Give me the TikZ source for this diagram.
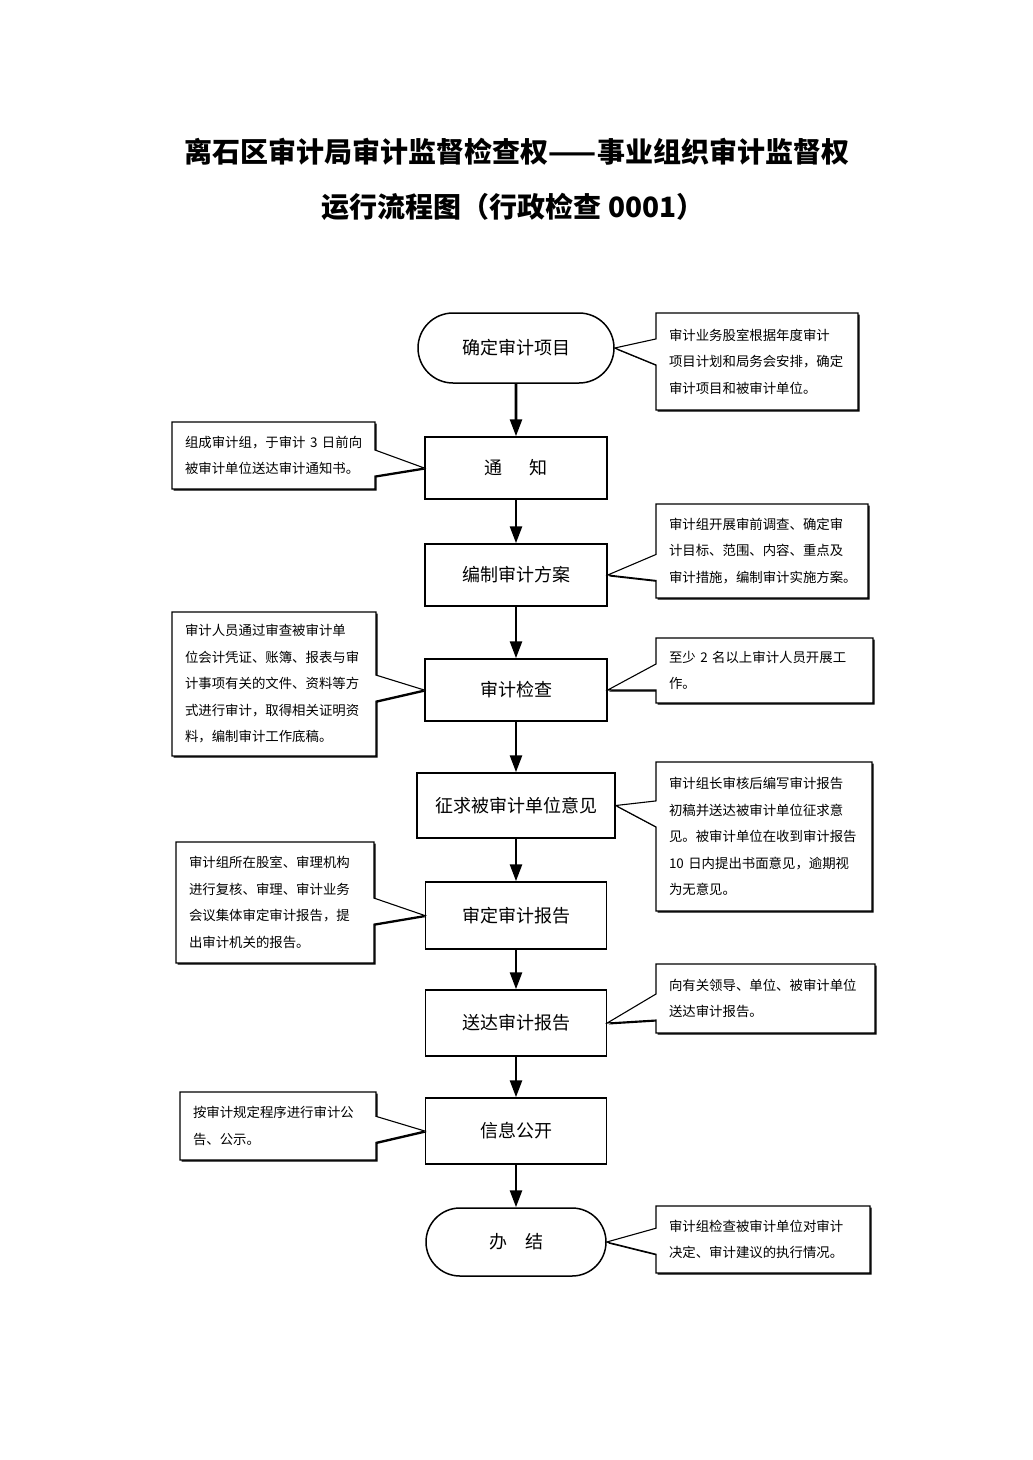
\documentclass[tikz,border=0pt]{standalone}
\usepackage{fontspec}
\setmainfont{Noto Sans CJK SC}
\usetikzlibrary{positioning,shapes.misc,shapes.callouts,shadows,arrows.meta}

\begin{document}
\begin{tikzpicture}[x=1pt, y=-1pt,
    box/.style={rectangle, draw, line width=1.5pt, minimum width=182pt, minimum height=62pt, inner sep=0pt, font=\fontsize{18pt}{22pt}\selectfont},
    ends/.style={rounded rectangle, draw, line width=1.5pt, minimum width=196pt, minimum height=70pt, inner sep=0pt, font=\fontsize{18pt}{22pt}\selectfont},
    note/.style={rectangle callout, draw, line width=1.1pt, fill=white, align=left, inner xsep=13pt, inner ysep=2pt, font=\fontsize{13.4pt}{26.5pt}\selectfont, callout pointer width=26pt, drop shadow={shadow xshift=1.5pt, shadow yshift=-1.5pt, fill=black, opacity=1}},
    flow/.style={-{Triangle[width=12pt,length=17pt]}, line width=2.6pt}]
    \useasboundingbox [fill=white] (0,0) rectangle (1033,1460);

    % Judul
    \node (title1) at (517,152) [font=\fontsize{28pt}{34pt}\selectfont\bfseries] {离石区审计局审计监督检查权——事业组织审计监督权};
    \node (title2) at (513,207) [font=\fontsize{28pt}{34pt}\selectfont\bfseries] {运行流程图（行政检查 0001）};

    % Langkah utama
    \node (decide) at (516,348) [ends] {确定审计项目};
    \node (notify) [box, below=52.5pt of decide] {通\hspace{1.5em}知};
    \node (plan) [box, below=43.5pt of notify] {编制审计方案};
    \node (check) [box, below=51.5pt of plan] {审计检查};
    \node (opinion) [box, minimum width=198pt, minimum height=65pt, below=50.5pt of check] {征求被审计单位意见};
    \node (approve) [box, minimum width=181pt, minimum height=67pt, below=42.5pt of opinion] {审定审计报告};
    \node (deliver) [box, minimum width=181pt, minimum height=66pt, below=39.5pt of approve] {送达审计报告};
    \node (publish) [box, minimum width=181pt, minimum height=66pt, below=40.5pt of deliver] {信息公开};
    \node (close) [ends, minimum width=180pt, minimum height=68pt, below=42.5pt of publish] {办\hspace{1em}结};

    % Panah
    \draw [flow] (decide) -- (notify);
    \draw [flow] (notify) -- (plan);
    \draw [flow] (plan) -- (check);
    \draw [flow] (check) -- (opinion);
    \draw [flow] (opinion) -- (approve);
    \draw [flow] (approve) -- (deliver);
    \draw [flow] (deliver) -- (publish);
    \draw [flow] (publish) -- (close);

    % Keterangan
    \node (decidenote) at (757,361.5) [note, text width=176pt, minimum height=97pt, callout absolute pointer={(decide.east)}] {审计业务股室根据年度审计\\项目计划和局务会安排，确定\\审计项目和被审计单位。};
    \node (notifynote) at (273.5,455.5) [note, text width=177pt, minimum height=67pt, callout absolute pointer={(notify.west)}] {组成审计组，于审计~3~日前向\\被审计单位送达审计通知书。};
    \node (plannote) at (762,551) [note, text width=186pt, minimum height=94pt, callout absolute pointer={(plan.east)}] {审计组开展审前调查、确定审\\计目标、范围、内容、重点及\\审计措施，编制审计实施方案。};
    \node (checknote) at (274,684) [note, text width=178pt, minimum height=144pt, callout absolute pointer={(check.west)}] {审计人员通过审查被审计单\\位会计凭证、账簿、报表与审\\计事项有关的文件、资料等方\\式进行审计，取得相关证明资\\料，编制审计工作底稿。};
    \node (staffnote) at (764.5,670.5) [note, text width=191pt, minimum height=65pt, callout absolute pointer={(check.east)}] {至少~2~名以上审计人员开展工\\作。};
    \node (opinionnote) at (764,836.5) [note, text width=190pt, minimum height=149pt, callout absolute pointer={(opinion.east)}] {审计组长审核后编写审计报告\\初稿并送达被审计单位征求意\\见。被审计单位在收到审计报告\\10~日内提出书面意见，逾期视\\为无意见。};
    \node (approvenote) at (275,902.5) [note, text width=172pt, minimum height=121pt, callout absolute pointer={(approve.west)}] {审计组所在股室、审理机构\\进行复核、审理、审计业务\\会议集体审定审计报告，提\\出审计机关的报告。};
    \node (delivernote) at (765.5,998.5) [note, text width=193pt, minimum height=69pt, callout absolute pointer={(deliver.east)}] {向有关领导、单位、被审计单位\\送达审计报告。};
    \node (publishnote) at (278,1126) [note, text width=170pt, minimum height=68pt, callout absolute pointer={(publish.west)}] {按审计规定程序进行审计公\\告、公示。};
    \node (closenote) at (763,1239.5) [note, text width=188pt, minimum height=67pt, callout absolute pointer={(close.east)}] {审计组检查被审计单位对审计\\决定、审计建议的执行情况。};
\end{tikzpicture}
\end{document}
